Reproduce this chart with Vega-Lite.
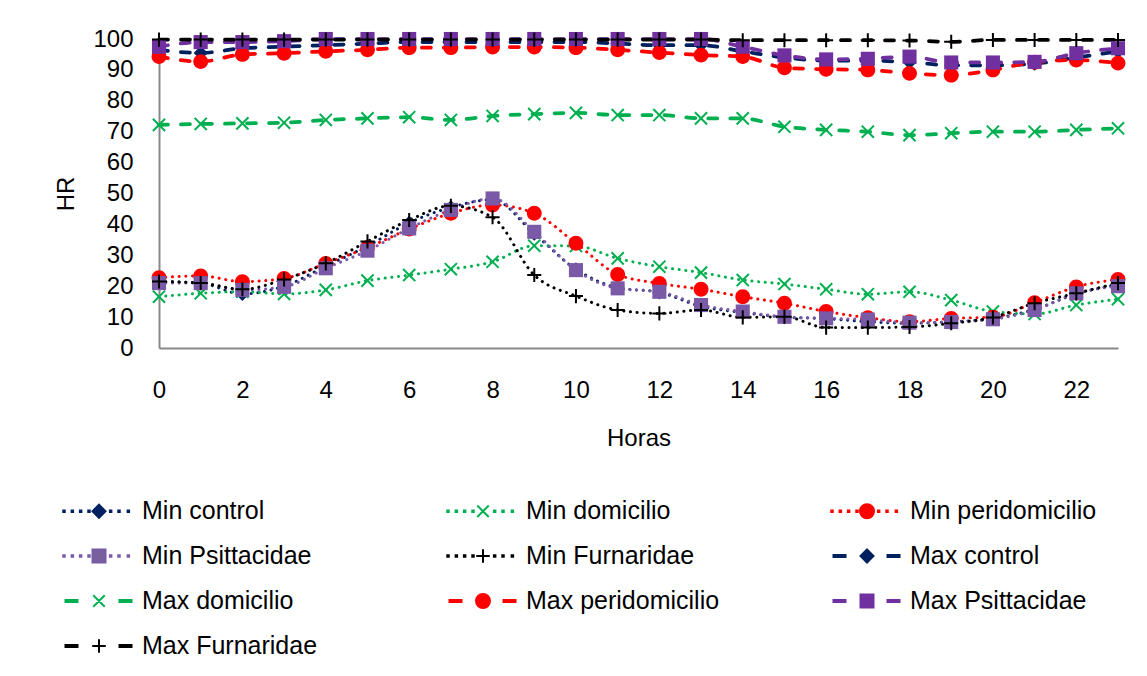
{
  "$schema": "https://vega.github.io/schema/vega-lite/v6.json",
  "autosize": "none",
  "width": 959,
  "height": 309,
  "padding": {"left": 159, "top": 39, "right": 29, "bottom": 328},
  "background": "white",
  "config": {"font": "Liberation Sans", "view": {"stroke": null}},
  "data": {"values": [
    {"s":"Min control","h":0,"v":21.5},{"s":"Min control","h":1,"v":21},{"s":"Min control","h":2,"v":17.5},{"s":"Min control","h":3,"v":20},{"s":"Min control","h":4,"v":26.5},{"s":"Min control","h":5,"v":33},{"s":"Min control","h":6,"v":40.5},{"s":"Min control","h":7,"v":45.5},{"s":"Min control","h":8,"v":48},{"s":"Min control","h":9,"v":37},{"s":"Min control","h":10,"v":25.5},{"s":"Min control","h":11,"v":19.5},{"s":"Min control","h":12,"v":18},{"s":"Min control","h":13,"v":13.5},{"s":"Min control","h":14,"v":11.5},{"s":"Min control","h":15,"v":10},{"s":"Min control","h":16,"v":9.5},{"s":"Min control","h":17,"v":8.5},{"s":"Min control","h":18,"v":8},{"s":"Min control","h":19,"v":8.5},{"s":"Min control","h":20,"v":9.5},{"s":"Min control","h":21,"v":12.5},{"s":"Min control","h":22,"v":17.5},{"s":"Min control","h":23,"v":20.5},
    {"s":"Min domicilio","h":0,"v":16.6},{"s":"Min domicilio","h":1,"v":17.7},{"s":"Min domicilio","h":2,"v":18.2},{"s":"Min domicilio","h":3,"v":17.5},{"s":"Min domicilio","h":4,"v":18.8},{"s":"Min domicilio","h":5,"v":21.8},{"s":"Min domicilio","h":6,"v":23.6},{"s":"Min domicilio","h":7,"v":25.5},{"s":"Min domicilio","h":8,"v":27.9},{"s":"Min domicilio","h":9,"v":33.1},{"s":"Min domicilio","h":10,"v":33},{"s":"Min domicilio","h":11,"v":29},{"s":"Min domicilio","h":12,"v":26.3},{"s":"Min domicilio","h":13,"v":24.4},{"s":"Min domicilio","h":14,"v":22},{"s":"Min domicilio","h":15,"v":20.7},{"s":"Min domicilio","h":16,"v":19},{"s":"Min domicilio","h":17,"v":17.4},{"s":"Min domicilio","h":18,"v":18.2},{"s":"Min domicilio","h":19,"v":15.5},{"s":"Min domicilio","h":20,"v":11.8},{"s":"Min domicilio","h":21,"v":11},{"s":"Min domicilio","h":22,"v":13.9},{"s":"Min domicilio","h":23,"v":15.8},
    {"s":"Min peridomicilio","h":0,"v":22.8},{"s":"Min peridomicilio","h":1,"v":23.3},{"s":"Min peridomicilio","h":2,"v":21.5},{"s":"Min peridomicilio","h":3,"v":22.5},{"s":"Min peridomicilio","h":4,"v":27.4},{"s":"Min peridomicilio","h":5,"v":32.5},{"s":"Min peridomicilio","h":6,"v":38.5},{"s":"Min peridomicilio","h":7,"v":43.6},{"s":"Min peridomicilio","h":8,"v":46.3},{"s":"Min peridomicilio","h":9,"v":43.6},{"s":"Min peridomicilio","h":10,"v":33.9},{"s":"Min peridomicilio","h":11,"v":23.8},{"s":"Min peridomicilio","h":12,"v":20.9},{"s":"Min peridomicilio","h":13,"v":19},{"s":"Min peridomicilio","h":14,"v":16.6},{"s":"Min peridomicilio","h":15,"v":14.5},{"s":"Min peridomicilio","h":16,"v":11.8},{"s":"Min peridomicilio","h":17,"v":9.8},{"s":"Min peridomicilio","h":18,"v":8.5},{"s":"Min peridomicilio","h":19,"v":9.6},{"s":"Min peridomicilio","h":20,"v":10},{"s":"Min peridomicilio","h":21,"v":14.7},{"s":"Min peridomicilio","h":22,"v":19.8},{"s":"Min peridomicilio","h":23,"v":22.2},
    {"s":"Min Psittacidae","h":0,"v":21},{"s":"Min Psittacidae","h":1,"v":21},{"s":"Min Psittacidae","h":2,"v":18.8},{"s":"Min Psittacidae","h":3,"v":19.8},{"s":"Min Psittacidae","h":4,"v":25.8},{"s":"Min Psittacidae","h":5,"v":31.5},{"s":"Min Psittacidae","h":6,"v":38.7},{"s":"Min Psittacidae","h":7,"v":44.7},{"s":"Min Psittacidae","h":8,"v":48.4},{"s":"Min Psittacidae","h":9,"v":37.6},{"s":"Min Psittacidae","h":10,"v":25.2},{"s":"Min Psittacidae","h":11,"v":19.3},{"s":"Min Psittacidae","h":12,"v":18.2},{"s":"Min Psittacidae","h":13,"v":13.9},{"s":"Min Psittacidae","h":14,"v":11.8},{"s":"Min Psittacidae","h":15,"v":10.1},{"s":"Min Psittacidae","h":16,"v":9.6},{"s":"Min Psittacidae","h":17,"v":9.2},{"s":"Min Psittacidae","h":18,"v":8.2},{"s":"Min Psittacidae","h":19,"v":8.4},{"s":"Min Psittacidae","h":20,"v":9.3},{"s":"Min Psittacidae","h":21,"v":12.3},{"s":"Min Psittacidae","h":22,"v":17.7},{"s":"Min Psittacidae","h":23,"v":20},
    {"s":"Min Furnaridae","h":0,"v":21.5},{"s":"Min Furnaridae","h":1,"v":21},{"s":"Min Furnaridae","h":2,"v":19},{"s":"Min Furnaridae","h":3,"v":22.2},{"s":"Min Furnaridae","h":4,"v":27.4},{"s":"Min Furnaridae","h":5,"v":34.5},{"s":"Min Furnaridae","h":6,"v":41.4},{"s":"Min Furnaridae","h":7,"v":46},{"s":"Min Furnaridae","h":8,"v":42.3},{"s":"Min Furnaridae","h":9,"v":23.6},{"s":"Min Furnaridae","h":10,"v":16.8},{"s":"Min Furnaridae","h":11,"v":12.3},{"s":"Min Furnaridae","h":12,"v":11.2},{"s":"Min Furnaridae","h":13,"v":12.3},{"s":"Min Furnaridae","h":14,"v":9.9},{"s":"Min Furnaridae","h":15,"v":10.1},{"s":"Min Furnaridae","h":16,"v":6.6},{"s":"Min Furnaridae","h":17,"v":6.6},{"s":"Min Furnaridae","h":18,"v":6.8},{"s":"Min Furnaridae","h":19,"v":8},{"s":"Min Furnaridae","h":20,"v":9.9},{"s":"Min Furnaridae","h":21,"v":14.5},{"s":"Min Furnaridae","h":22,"v":17.7},{"s":"Min Furnaridae","h":23,"v":21},
    {"s":"Max control","h":0,"v":96.5},{"s":"Max control","h":1,"v":95.5},{"s":"Max control","h":2,"v":97},{"s":"Max control","h":3,"v":97.5},{"s":"Max control","h":4,"v":98},{"s":"Max control","h":5,"v":98.5},{"s":"Max control","h":6,"v":99},{"s":"Max control","h":7,"v":99},{"s":"Max control","h":8,"v":99},{"s":"Max control","h":9,"v":99},{"s":"Max control","h":10,"v":99},{"s":"Max control","h":11,"v":98.5},{"s":"Max control","h":12,"v":98},{"s":"Max control","h":13,"v":98},{"s":"Max control","h":14,"v":96},{"s":"Max control","h":15,"v":94},{"s":"Max control","h":16,"v":93},{"s":"Max control","h":17,"v":93},{"s":"Max control","h":18,"v":92.5},{"s":"Max control","h":19,"v":91.5},{"s":"Max control","h":20,"v":91.5},{"s":"Max control","h":21,"v":92},{"s":"Max control","h":22,"v":94},{"s":"Max control","h":23,"v":96},
    {"s":"Max domicilio","h":0,"v":72.2},{"s":"Max domicilio","h":1,"v":72.5},{"s":"Max domicilio","h":2,"v":72.7},{"s":"Max domicilio","h":3,"v":72.9},{"s":"Max domicilio","h":4,"v":73.8},{"s":"Max domicilio","h":5,"v":74.3},{"s":"Max domicilio","h":6,"v":74.7},{"s":"Max domicilio","h":7,"v":73.8},{"s":"Max domicilio","h":8,"v":75.1},{"s":"Max domicilio","h":9,"v":75.7},{"s":"Max domicilio","h":10,"v":76.1},{"s":"Max domicilio","h":11,"v":75.4},{"s":"Max domicilio","h":12,"v":75.4},{"s":"Max domicilio","h":13,"v":74.3},{"s":"Max domicilio","h":14,"v":74.3},{"s":"Max domicilio","h":15,"v":71.6},{"s":"Max domicilio","h":16,"v":70.6},{"s":"Max domicilio","h":17,"v":70},{"s":"Max domicilio","h":18,"v":68.9},{"s":"Max domicilio","h":19,"v":69.5},{"s":"Max domicilio","h":20,"v":70},{"s":"Max domicilio","h":21,"v":70},{"s":"Max domicilio","h":22,"v":70.6},{"s":"Max domicilio","h":23,"v":71.1},
    {"s":"Max peridomicilio","h":0,"v":94.3},{"s":"Max peridomicilio","h":1,"v":92.7},{"s":"Max peridomicilio","h":2,"v":95},{"s":"Max peridomicilio","h":3,"v":95.4},{"s":"Max peridomicilio","h":4,"v":96},{"s":"Max peridomicilio","h":5,"v":96.5},{"s":"Max peridomicilio","h":6,"v":97.2},{"s":"Max peridomicilio","h":7,"v":97.2},{"s":"Max peridomicilio","h":8,"v":97.4},{"s":"Max peridomicilio","h":9,"v":97.4},{"s":"Max peridomicilio","h":10,"v":97.2},{"s":"Max peridomicilio","h":11,"v":96.5},{"s":"Max peridomicilio","h":12,"v":95.6},{"s":"Max peridomicilio","h":13,"v":94.8},{"s":"Max peridomicilio","h":14,"v":94.3},{"s":"Max peridomicilio","h":15,"v":90.7},{"s":"Max peridomicilio","h":16,"v":90.2},{"s":"Max peridomicilio","h":17,"v":90},{"s":"Max peridomicilio","h":18,"v":88.9},{"s":"Max peridomicilio","h":19,"v":88.3},{"s":"Max peridomicilio","h":20,"v":90},{"s":"Max peridomicilio","h":21,"v":92.5},{"s":"Max peridomicilio","h":22,"v":93.2},{"s":"Max peridomicilio","h":23,"v":92.2},
    {"s":"Max Psittacidae","h":0,"v":97.5},{"s":"Max Psittacidae","h":1,"v":99},{"s":"Max Psittacidae","h":2,"v":99},{"s":"Max Psittacidae","h":3,"v":99.3},{"s":"Max Psittacidae","h":4,"v":100},{"s":"Max Psittacidae","h":5,"v":100},{"s":"Max Psittacidae","h":6,"v":100},{"s":"Max Psittacidae","h":7,"v":100},{"s":"Max Psittacidae","h":8,"v":100},{"s":"Max Psittacidae","h":9,"v":100},{"s":"Max Psittacidae","h":10,"v":100},{"s":"Max Psittacidae","h":11,"v":100},{"s":"Max Psittacidae","h":12,"v":100},{"s":"Max Psittacidae","h":13,"v":100},{"s":"Max Psittacidae","h":14,"v":97.5},{"s":"Max Psittacidae","h":15,"v":94.7},{"s":"Max Psittacidae","h":16,"v":93.4},{"s":"Max Psittacidae","h":17,"v":93.6},{"s":"Max Psittacidae","h":18,"v":94.3},{"s":"Max Psittacidae","h":19,"v":92.4},{"s":"Max Psittacidae","h":20,"v":92.4},{"s":"Max Psittacidae","h":21,"v":92.6},{"s":"Max Psittacidae","h":22,"v":95.4},{"s":"Max Psittacidae","h":23,"v":97},
    {"s":"Max Furnaridae","h":0,"v":99.8},{"s":"Max Furnaridae","h":1,"v":99.8},{"s":"Max Furnaridae","h":2,"v":99.8},{"s":"Max Furnaridae","h":3,"v":99.8},{"s":"Max Furnaridae","h":4,"v":99.8},{"s":"Max Furnaridae","h":5,"v":99.8},{"s":"Max Furnaridae","h":6,"v":99.8},{"s":"Max Furnaridae","h":7,"v":99.8},{"s":"Max Furnaridae","h":8,"v":99.8},{"s":"Max Furnaridae","h":9,"v":99.8},{"s":"Max Furnaridae","h":10,"v":99.8},{"s":"Max Furnaridae","h":11,"v":99.8},{"s":"Max Furnaridae","h":12,"v":99.8},{"s":"Max Furnaridae","h":13,"v":99.8},{"s":"Max Furnaridae","h":14,"v":99.6},{"s":"Max Furnaridae","h":15,"v":99.6},{"s":"Max Furnaridae","h":16,"v":99.6},{"s":"Max Furnaridae","h":17,"v":99.6},{"s":"Max Furnaridae","h":18,"v":99.5},{"s":"Max Furnaridae","h":19,"v":99.1},{"s":"Max Furnaridae","h":20,"v":99.7},{"s":"Max Furnaridae","h":21,"v":99.7},{"s":"Max Furnaridae","h":22,"v":99.7},{"s":"Max Furnaridae","h":23,"v":99.7}
  ]},
  "encoding": {
    "x": {"field": "h", "type": "quantitative", "scale": {"domain": [0, 23], "nice": false, "zero": false},
      "axis": {"title": "Horas", "values": [0,2,4,6,8,10,12,14,16,18,20,22], "grid": false, "ticks": false, "domainColor": "#898989", "domainWidth": 2, "labelFontSize": 24, "labelColor": "#000000", "labelPadding": 30, "labelFlush": false, "titleFontSize": 24, "titleFontWeight": "normal", "titleColor": "#000000", "titlePadding": 24}},
    "y": {"field": "v", "type": "quantitative", "scale": {"domain": [0, 100], "nice": false},
      "axis": {"title": "HR", "values": [0,10,20,30,40,50,60,70,80,90,100], "grid": false, "ticks": false, "domainColor": "#898989", "domainWidth": 2, "labelFontSize": 24, "labelColor": "#000000", "labelPadding": 26, "labelFlush": false, "titleFontSize": 24, "titleFontWeight": "normal", "titleColor": "#000000", "titlePadding": 14}}
  },
  "layer": [
    {
      "transform": [{"filter": "datum.h === 0"}],
      "mark": {"type": "point", "filled": true, "opacity": 0, "size": 100},
      "encoding": {
        "shape": {"field": "s", "type": "nominal",
          "scale": {"domain": ["Min control","Min domicilio","Min peridomicilio","Min Psittacidae","Min Furnaridae","Max control","Max domicilio","Max peridomicilio","Max Psittacidae","Max Furnaridae"],
            "range": [
              "M-7.15,-0.15h0.3v0.3h-0.3ZM-5.48,-0.15h0.3v0.3h-0.3ZM-3.82,-0.15h0.3v0.3h-0.3ZM-2.15,-0.15h0.3v0.3h-0.3ZM2.18,-0.15h0.3v0.3h-0.3ZM3.85,-0.15h0.3v0.3h-0.3ZM5.72,-0.15h0.3v0.3h-0.3ZM0,-1.3L1.3,0L0,1.3L-1.3,0Z",
              "M-7.15,-0.15h0.3v0.3h-0.3ZM-5.48,-0.15h0.3v0.3h-0.3ZM-3.82,-0.15h0.3v0.3h-0.3ZM-2.15,-0.15h0.3v0.3h-0.3ZM2.18,-0.15h0.3v0.3h-0.3ZM3.85,-0.15h0.3v0.3h-0.3ZM5.72,-0.15h0.3v0.3h-0.3ZM-1.15,-1.15L1.15,1.15M-1.15,1.15L1.15,-1.15",
              "M-7.15,-0.15h0.3v0.3h-0.3ZM-5.48,-0.15h0.3v0.3h-0.3ZM-3.82,-0.15h0.3v0.3h-0.3ZM-2.15,-0.15h0.3v0.3h-0.3ZM2.18,-0.15h0.3v0.3h-0.3ZM3.85,-0.15h0.3v0.3h-0.3ZM5.72,-0.15h0.3v0.3h-0.3ZM-1.4,0A1.4,1.4,0,1,1,1.4,0A1.4,1.4,0,1,1,-1.4,0Z",
              "M-7.15,-0.15h0.3v0.3h-0.3ZM-5.48,-0.15h0.3v0.3h-0.3ZM-3.82,-0.15h0.3v0.3h-0.3ZM-2.15,-0.15h0.3v0.3h-0.3ZM2.18,-0.15h0.3v0.3h-0.3ZM3.85,-0.15h0.3v0.3h-0.3ZM5.72,-0.15h0.3v0.3h-0.3ZM-1.3,-1.3H1.3V1.3H-1.3Z",
              "M-7.15,-0.15h0.3v0.3h-0.3ZM-5.48,-0.15h0.3v0.3h-0.3ZM-3.82,-0.15h0.3v0.3h-0.3ZM-2.15,-0.15h0.3v0.3h-0.3ZM2.18,-0.15h0.3v0.3h-0.3ZM3.85,-0.15h0.3v0.3h-0.3ZM5.72,-0.15h0.3v0.3h-0.3ZM-1.35,0H1.35M0,-1.35V1.35",
              "M-6.7,-0.2H-4.3V0.2H-6.7ZM4.1,-0.2H6.5V0.2H4.1ZM0,-1.3L1.3,0L0,1.3L-1.3,0Z",
              "M-6.7,-0.2H-4.3V0.2H-6.7ZM4.1,-0.2H6.5V0.2H4.1ZM-1.15,-1.15L1.15,1.15M-1.15,1.15L1.15,-1.15",
              "M-6.7,-0.2H-4.3V0.2H-6.7ZM4.1,-0.2H6.5V0.2H4.1ZM-1.4,0A1.4,1.4,0,1,1,1.4,0A1.4,1.4,0,1,1,-1.4,0Z",
              "M-6.7,-0.2H-4.3V0.2H-6.7ZM4.1,-0.2H6.5V0.2H4.1ZM-1.3,-1.3H1.3V1.3H-1.3Z",
              "M-6.7,-0.2H-4.3V0.2H-6.7ZM4.1,-0.2H6.5V0.2H4.1ZM-1.35,0H1.35M0,-1.35V1.35"
            ]},
          "legend": {
            "title": null, "orient": "none", "legendX": -97, "legendY": 459.5,
            "direction": "horizontal", "columns": 3, "gridAlign": "all",
            "columnPadding": 107, "rowPadding": 19, "padding": 0,
            "symbolSize": 100, "symbolOffset": 24.5, "symbolStrokeWidth": 2, "symbolOpacity": 1,
            "labelOffset": 30.5, "labelFontSize": 25, "labelFont": "Liberation Sans", "labelColor": "#000000", "labelLimit": 400
          }},
        "fill": {"field": "s", "type": "nominal",
          "scale": {"domain": ["Min control","Min domicilio","Min peridomicilio","Min Psittacidae","Min Furnaridae","Max control","Max domicilio","Max peridomicilio","Max Psittacidae","Max Furnaridae"],
            "range": ["#002060","#00B050","#FF0000","#77609B","#000000","#002060","#00B050","#FF0000","#7030A0","#000000"]}},
        "stroke": {"field": "s", "type": "nominal",
          "scale": {"domain": ["Min control","Min domicilio","Min peridomicilio","Min Psittacidae","Min Furnaridae","Max control","Max domicilio","Max peridomicilio","Max Psittacidae","Max Furnaridae"],
            "range": ["#002060","#00B050","#FF0000","#7A5AA6","#000000","#002060","#00B050","#FF0000","#7030A0","#000000"]}}
      }
    },
    {
      "transform": [{"filter": "indexof(datum.s, 'Min') === 0"}],
      "mark": {"type": "line", "interpolate": "monotone", "strokeWidth": 3, "strokeCap": "round", "strokeDash": [0.1, 6.6]},
      "encoding": {
        "color": {"field": "s", "type": "nominal", "legend": null,
          "scale": {"domain": ["Max Furnaridae","Max Psittacidae","Max peridomicilio","Max domicilio","Max control","Min Furnaridae","Min Psittacidae","Min peridomicilio","Min domicilio","Min control"],
            "range": ["#000000","#7030A0","#FF0000","#00B050","#002060","#000000","#7A5AA6","#FF0000","#00B050","#002060"]}}
      }
    },
    {
      "transform": [{"filter": "indexof(datum.s, 'Max') === 0"}],
      "mark": {"type": "line", "interpolate": "monotone", "strokeWidth": 3.75, "strokeCap": "round", "strokeDash": [9, 13]},
      "encoding": {"color": {"field": "s", "type": "nominal", "legend": null}}
    },
    {
      "transform": [{"filter": "indexof(datum.s, 'control') > 0"}],
      "mark": {"type": "point", "filled": true, "opacity": 1, "size": 220, "shape": "M0,-0.95L0.95,0L0,0.95L-0.95,0Z"},
      "encoding": {"color": {"field": "s", "type": "nominal", "legend": null}}
    },
    {
      "transform": [{"filter": "indexof(datum.s, 'domicilio') === 4"}],
      "mark": {"type": "point", "filled": false, "opacity": 1, "size": 220, "strokeWidth": 2, "shape": "M-0.82,-0.82L0.82,0.82M-0.82,0.82L0.82,-0.82"},
      "encoding": {"color": {"field": "s", "type": "nominal", "legend": null}}
    },
    {
      "transform": [{"filter": "indexof(datum.s, 'peri') > 0"}],
      "mark": {"type": "point", "filled": true, "opacity": 1, "size": 220, "shape": "M-1,0A1,1,0,1,1,1,0A1,1,0,1,1,-1,0Z"},
      "encoding": {"color": {"field": "s", "type": "nominal", "legend": null}}
    },
    {
      "transform": [{"filter": "indexof(datum.s, 'Psitt') > 0"}],
      "mark": {"type": "point", "filled": true, "opacity": 1, "size": 220, "shape": "M-0.95,-0.95H0.95V0.95H-0.95Z"},
      "encoding": {"color": {"field": "s", "type": "nominal", "legend": null}}
    },
    {
      "transform": [{"filter": "indexof(datum.s, 'Furn') > 0"}],
      "mark": {"type": "point", "filled": false, "opacity": 1, "size": 220, "strokeWidth": 2, "shape": "M-0.95,0H0.95M0,-0.95V0.95"},
      "encoding": {"color": {"field": "s", "type": "nominal", "legend": null}}
    }
  ]
}
